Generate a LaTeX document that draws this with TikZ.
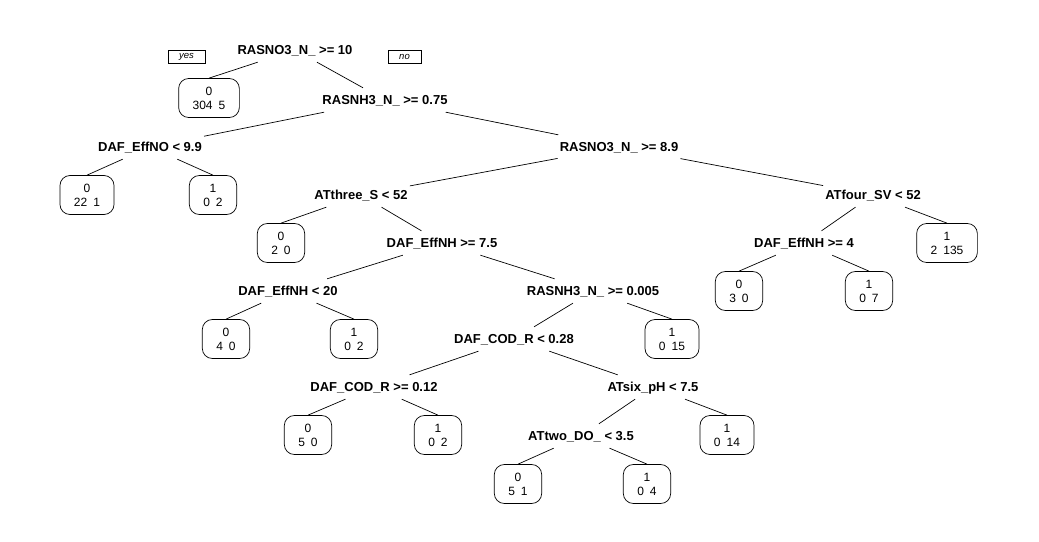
\documentclass[tikz,border=0pt]{standalone}
\usepackage{fontspec}
\setmainfont{Liberation Sans}
\begin{document}
\begin{tikzpicture}[x=1pt,y=-1pt,
  split/.style={font=\fontsize{13}{15}\selectfont\bfseries, inner xsep=2pt, inner ysep=7.5pt, text height=9pt, text depth=0pt},
  leaf/.style={draw, rounded corners=10pt, font=\fontsize{12}{14}\selectfont, align=center, minimum height=39pt, inner xsep=14pt, line width=0.7pt},
  yn/.style={draw, font=\fontsize{9.5}{10}\selectfont\itshape, minimum height=12.5pt, inner sep=0pt, line width=0.6pt},
  edge/.style={line width=0.7pt}]
\useasboundingbox (0,0) rectangle (1039,541);
\newcommand{\gp}{\hspace{6pt}}
% split nodes
\node[split] (n1) at (295,50) {RASNO3\_N\_ >= 10};
\node[split] (n2) at (385,100) {RASNH3\_N\_ >= 0.75};
\node[split] (n3) at (150,147) {DAF\_EffNO < 9.9};
\node[split] (n4) at (619,147) {RASNO3\_N\_ >= 8.9};
\node[split] (n5) at (361,195) {ATthree\_S < 52};
\node[split] (n6) at (873,195) {ATfour\_SV < 52};
\node[split] (n7) at (442,243) {DAF\_EffNH >= 7.5};
\node[split] (n8) at (804,243) {DAF\_EffNH >= 4};
\node[split] (n9) at (288,291) {DAF\_EffNH < 20};
\node[split] (n10) at (593,291) {RASNH3\_N\_ >= 0.005};
\node[split] (n11) at (514,339) {DAF\_COD\_R < 0.28};
\node[split] (n12) at (374,387) {DAF\_COD\_R >= 0.12};
\node[split] (n13) at (653,387) {ATsix\_pH < 7.5};
\node[split] (n14) at (581,436) {ATtwo\_DO\_ < 3.5};
% yes / no
\node[yn, minimum width=37pt] (yes) at (186.5,57) {yes};
\node[yn, minimum width=33pt] (no) at (404.5,57) {no};
% leaves
\node[leaf] (l1) at (209,98) {0\\304\gp5};
\node[leaf] (l2) at (87,195) {0\\22\gp1};
\node[leaf] (l3) at (213,195) {1\\0\gp2};
\node[leaf] (l4) at (281,243) {0\\2\gp0};
\node[leaf] (l5) at (739,291) {0\\3\gp0};
\node[leaf] (l6) at (869,291) {1\\0\gp7};
\node[leaf] (l7) at (947,243) {1\\2\gp135};
\node[leaf] (l8) at (226,339) {0\\4\gp0};
\node[leaf] (l9) at (354,339) {1\\0\gp2};
\node[leaf] (l10) at (672,339) {1\\0\gp15};
\node[leaf] (l11) at (308,435) {0\\5\gp0};
\node[leaf] (l12) at (438,435) {1\\0\gp2};
\node[leaf] (l13) at (727,435) {1\\0\gp14};
\node[leaf] (l14) at (518,484) {0\\5\gp1};
\node[leaf] (l15) at (647,484) {1\\0\gp4};
% edges
\draw[edge] (n1) -- (l1.north);
\draw[edge] (n1) -- (n2);
\draw[edge] (n2) -- (n3);
\draw[edge] (n2) -- (n4);
\draw[edge] (n3) -- (l2.north);
\draw[edge] (n3) -- (l3.north);
\draw[edge] (n4) -- (n5);
\draw[edge] (n4) -- (n6);
\draw[edge] (n5) -- (l4.north);
\draw[edge] (n5) -- (n7);
\draw[edge] (n6) -- (n8);
\draw[edge] (n6) -- (l7.north);
\draw[edge] (n8) -- (l5.north);
\draw[edge] (n8) -- (l6.north);
\draw[edge] (n7) -- (n9);
\draw[edge] (n7) -- (n10);
\draw[edge] (n9) -- (l8.north);
\draw[edge] (n9) -- (l9.north);
\draw[edge] (n10) -- (n11);
\draw[edge] (n10) -- (l10.north);
\draw[edge] (n11) -- (n12);
\draw[edge] (n11) -- (n13);
\draw[edge] (n12) -- (l11.north);
\draw[edge] (n12) -- (l12.north);
\draw[edge] (n13) -- (n14);
\draw[edge] (n13) -- (l13.north);
\draw[edge] (n14) -- (l14.north);
\draw[edge] (n14) -- (l15.north);
\end{tikzpicture}
\end{document}
